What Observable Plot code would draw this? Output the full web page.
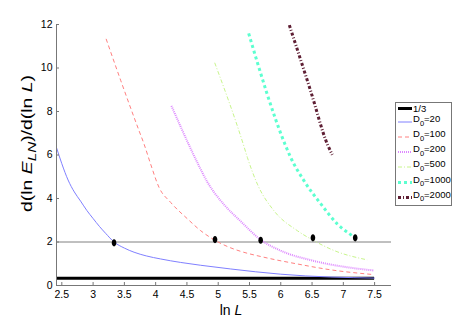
<!DOCTYPE html>
<html><head><meta charset="utf-8">
<script src="https://cdn.jsdelivr.net/npm/d3@7"></script>
<script src="https://cdn.jsdelivr.net/npm/@observablehq/plot@0.6"></script>
<style>
body{margin:0;background:#fff;font-family:"Liberation Sans",Arial,sans-serif}
#wrap{position:relative;width:471px;height:322px;overflow:hidden}
#legend{position:absolute;left:395px;top:102px}
</style></head><body><div id="wrap"></div>
<script>
// ---- data ----
const xTicks = [2.5,3,3.5,4,4.5,5,5.5,6,6.5,7,7.5];
const yTicks = [0,2,4,6,8,10,12];
const legendLabels = ["1/3","20","100","200","500","1000","2000"];

const x20 = [2.415,2.5,2.6,2.7,2.8,2.9,3.0,3.1,3.2,3.335,3.5,3.655,3.85,4.08,4.4,4.72,5.2,5.6,6.0,6.4,6.8,7.17,7.5];
const y20 = [6.34,5.6,4.85,4.3,3.88,3.45,3.08,2.72,2.4,2.0,1.72,1.53,1.36,1.22,1.06,0.93,0.76,0.63,0.52,0.44,0.39,0.36,0.34];

const x100 = [3.208,3.44,3.735,3.815,3.92,4.054,4.24,4.51,4.72,4.96,5.2,5.36,5.73,6.265,6.8,7.49];
const y100 = [11.34,9.44,7.11,6.5,5.58,4.51,3.82,3.06,2.52,2.06,1.73,1.57,1.3,0.99,0.72,0.5];

const x200 = [4.252,4.4,4.534,4.65,4.828,5.093,5.36,5.68,6.0,6.53,7.06,7.49];
const y200 = [8.26,7.3,6.45,5.75,4.75,3.72,2.95,2.1,1.6,1.13,0.84,0.69];

const x500 = [4.944,5.4,5.466,5.626,5.89,6.265,6.53,6.85,7.38];
const y500 = [10.24,6.5,5.89,4.66,3.44,2.52,2.06,1.61,1.18];

const x1000 = [5.487,6.067,6.158,6.37,6.64,6.904,7.22,7.24];
const y1000 = [11.59,6.5,5.89,4.82,3.75,2.83,2.11,2.06];

const x2000 = [6.137,6.478,6.744,6.824];
const y2000 = [11.97,8.94,6.5,6.01];

const dotX = [3.335,4.949,5.679,6.514,7.19];
const dotY = [1.96,2.11,2.08,2.19,2.19];

const thirdLevel = 1/3;
const refLevel = 2;
const xDomain = [2.415, 7.77];
const thirdEnd = 7.5;

// ---- styles ----
const styles = [
  {stroke:"#000000", strokeWidth:3, dash:null},
  {stroke:"#8080ff", strokeWidth:1, dash:null},
  {stroke:"#ff8080", strokeWidth:1, dash:"4,3"},
  {stroke:"#dd88ff", strokeWidth:2, dash:"1,1"},
  {stroke:"#c8f58c", strokeWidth:1, dash:"4,2,1,2"},
  {stroke:"#5cffd0", strokeWidth:3, dash:"3,3"},
  {stroke:"#5e1e33", strokeWidth:3, dash:"3,2,1,2"}
];

const zip = (xs, ys) => xs.map((x,i)=>({x, y: ys[i]}));
const series = [zip(x20,y20), zip(x100,y100), zip(x200,y200), zip(x500,y500), zip(x1000,y1000), zip(x2000,y2000)];
const dots = zip(dotX, dotY);

const ellipseSymbol = {draw(ctx){
  const rx = 2.3, ry = 3.6, k = 0.5523;
  ctx.moveTo(rx,0);
  ctx.bezierCurveTo(rx, ry*k, rx*k, ry, 0, ry);
  ctx.bezierCurveTo(-rx*k, ry, -rx, ry*k, -rx, 0);
  ctx.bezierCurveTo(-rx, -ry*k, -rx*k, -ry, 0, -ry);
  ctx.bezierCurveTo(rx*k, -ry, rx, -ry*k, rx, 0);
  ctx.closePath();
}};

const W = 471, H = 322, mL = 56, mR = 80, mT = 24, mB = 37;
const frameH = H - mT - mB, frameW = W - mL - mR;

const marks = [
  Plot.ruleY([refLevel], {stroke:"#808080", strokeWidth:1}),
  Plot.ruleY([thirdLevel], {x1: xDomain[0], x2: thirdEnd, stroke:"#000", strokeWidth:3}),
];
series.forEach((s,i)=>{
  const st = styles[i+1];
  marks.push(Plot.line(s, {x:"x", y:"y", stroke:st.stroke, strokeWidth:st.strokeWidth,
    strokeDasharray:st.dash, strokeLinecap:"butt", strokeLinejoin:"miter", curve:"monotone-x"}));
});
marks.push(
  Plot.dot(dots, {x:"x", y:"y", symbol: ellipseSymbol, fill:"#000", stroke:"none"}),
  Plot.ruleX(xTicks, {insetTop: frameH - 3, stroke:"#777"}),
  Plot.ruleY(yTicks, {insetRight: frameW - 3, stroke:"#777"}),
  Plot.ruleY([0], {stroke:"#777"}),
  Plot.ruleX([xDomain[0]], {stroke:"#777"}),
  Plot.axisX({ticks:xTicks, tickSize:0, tickPadding:5, tickFormat:d=>String(d)}),
  Plot.axisY({ticks:yTicks, tickSize:0, tickPadding:4, tickFormat:d=>String(d)})
);

const chart = Plot.plot({
  width:W, height:H, marginLeft:mL, marginRight:mR, marginTop:mT, marginBottom:mB,
  x:{domain:xDomain, label:null}, y:{domain:[0,12], label:null},
  style:{fontFamily:"'Liberation Sans', Arial, sans-serif", fontSize:"10.5px", color:"#000", background:"#fff"},
  marks
});
document.getElementById("wrap").appendChild(chart);

// axis titles
const svg = d3.select(chart);
const xl = svg.append("text").attr("x", 231).attr("y", 315).attr("text-anchor","middle")
  .attr("font-size", 14).attr("fill","#000");
xl.append("tspan").text("ln ");
xl.append("tspan").attr("font-style","italic").text("L");

const yl = svg.append("text").attr("transform","translate(32,143.5) rotate(-90)")
  .attr("text-anchor","middle").attr("font-size",14).attr("fill","#000")
  .attr("textLength",137).attr("lengthAdjust","spacingAndGlyphs");
yl.append("tspan").text("d(ln ");
yl.append("tspan").attr("font-style","italic").text("E");
yl.append("tspan").attr("font-style","italic").attr("font-size",11).attr("dy",4).text("LN");
yl.append("tspan").attr("dy",-4).text(")/d(ln ");
yl.append("tspan").attr("font-style","italic").text("L");
yl.append("tspan").text(")");

// legend
const lg = d3.select("#wrap").append("svg").attr("id","legend").attr("width",58).attr("height",105)
  .style("font-family","'Liberation Sans', Arial, sans-serif");
lg.append("rect").attr("x",0.5).attr("y",0.5).attr("width",56).attr("height",103)
  .attr("fill","#fff").attr("stroke","#777");
const rowY = [6.5, 20, 35, 50, 65, 80.5, 95.5];
legendLabels.forEach((lab,i)=>{
  const st = styles[i], y = rowY[i];
  lg.append("line").attr("x1",3).attr("x2",17).attr("y1",y).attr("y2",y)
    .attr("stroke",st.stroke).attr("stroke-width",st.strokeWidth)
    .attr("stroke-dasharray",st.dash);
  const t = lg.append("text").attr("x",18).attr("y", i===0 ? y+3.5 : y).attr("font-size",9.5).attr("fill","#000");
  if (i===0) t.text(lab);
  else {
    t.append("tspan").text("D");
    t.append("tspan").attr("font-size",7.5).attr("dy",3.5).text("0");
    t.append("tspan").attr("dy",-3.5).text("=" + lab);
  }
});
</script></body></html>
